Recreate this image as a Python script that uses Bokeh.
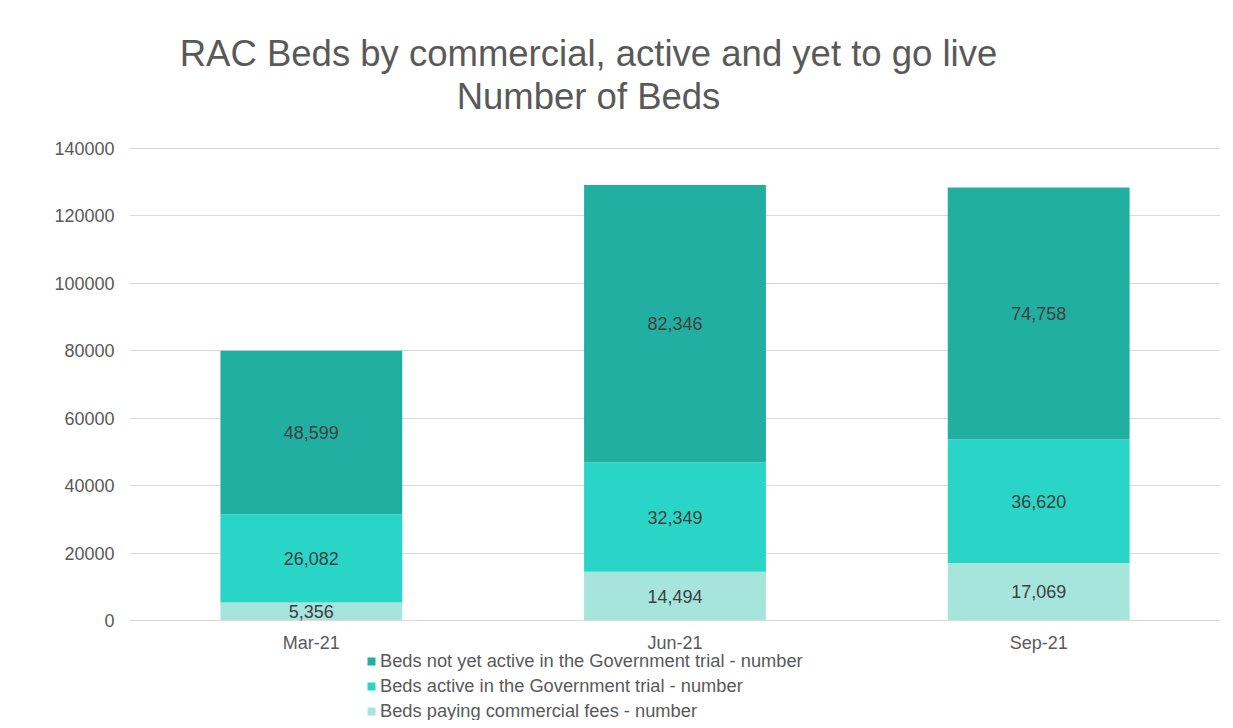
from bokeh.plotting import figure
from bokeh.models import (ColumnDataSource, FactorRange, Range1d, Legend, LegendItem,
                          NumeralTickFormatter, LabelSet, Label)
from bokeh.core.properties import value
from bokeh.embed import file_html
from bokeh.resources import INLINE

# ---- data ----
months = ["Mar-21", "Jun-21", "Sep-21"]
commercial = [5356, 14494, 17069]
active = [26082, 32349, 36620]
not_yet = [48599, 82346, 74758]
series_names = [
    "Beds paying commercial fees - number",
    "Beds active in the Government trial - number",
    "Beds not yet active in the Government trial - number",
]
title_lines = ["RAC Beds by commercial, active and yet to go live", "Number of Beds"]
y_ticks = [0, 20000, 40000, 60000, 80000, 100000, 120000, 140000]

colors = ["#A5E5DC", "#29D5C6", "#21AFA1"]
FONT = "Liberation Sans"
TXT = "#595959"

# ---- layout constants (pixels) ----
W, H = 1225, 720
LEFT, RIGHT_PAD = 129, 5
Y0_PX, YTOP_PX = 620, 148          # pixel rows of y=0 and y=140000
per_px = y_ticks[-1] / (Y0_PX - YTOP_PX)
y_min = -(H - Y0_PX) * per_px
y_max = Y0_PX * per_px
frame_w = W - LEFT - RIGHT_PAD

def px_to_y(py):
    return (Y0_PX - py) * per_px

def px_to_x(px):
    return (px - LEFT) / frame_w * len(months)

src = ColumnDataSource(dict(month=months, commercial=commercial, active=active, not_yet=not_yet))

p = figure(x_range=FactorRange(*months), y_range=Range1d(y_min, y_max),
           width=W, height=H, output_backend="svg", toolbar_location=None,
           min_border_left=LEFT, min_border_right=RIGHT_PAD, min_border_top=0, min_border_bottom=0)
p.x_range.range_padding = 0

renderers = p.vbar_stack(["commercial", "active", "not_yet"], x="month", width=0.5,
                         color=colors, source=src, line_color=None)

# data labels at segment midpoints
lab_x, lab_y, lab_t = [], [], []
for i, m in enumerate(months):
    base = 0
    for vals in (commercial, active, not_yet):
        v = vals[i]
        lab_x.append(m)
        lab_y.append(base + v / 2)
        lab_t.append(f"{v:,}")
        base += v
lsrc = ColumnDataSource(dict(x=lab_x, y=lab_y, t=lab_t))
p.add_layout(LabelSet(x="x", y="y", text="t", source=lsrc, text_align="center",
                      text_baseline="middle", text_font=value(FONT), text_font_size="18px",
                      text_color="#404040"))

# axes
p.yaxis.ticker = y_ticks
p.yaxis.formatter = NumeralTickFormatter(format="0")
p.yaxis.axis_line_color = None
p.yaxis.major_tick_line_color = None
p.yaxis.minor_tick_line_color = None
p.yaxis.major_tick_out = 0
p.yaxis.major_label_standoff = 15
p.yaxis.major_label_text_font = FONT
p.yaxis.major_label_text_font_size = "18px"
p.yaxis.major_label_text_color = TXT

p.xaxis.fixed_location = 0
p.xaxis.axis_line_color = "#d9d9d9"
p.xaxis.axis_line_width = 1
p.xaxis.major_tick_line_color = None
p.xaxis.major_tick_out = 0
p.xaxis.major_label_standoff = 12
p.xaxis.major_label_text_font = FONT
p.xaxis.major_label_text_font_size = "18px"
p.xaxis.major_label_text_color = TXT

p.xgrid.grid_line_color = None
p.ygrid.grid_line_color = "#d9d9d9"
p.ygrid.grid_line_width = 1
p.outline_line_color = None

# title: two centered lines
for line, py in zip(title_lines, (53, 96)):
    p.add_layout(Label(x=px_to_x(588), y=px_to_y(py), text=line, text_align="center",
                       text_baseline="middle", text_font=FONT, text_font_size="36.5px",
                       text_color=TXT))

# legend (top series first)
items = [LegendItem(label=series_names[i], renderers=[renderers[i]]) for i in (2, 1, 0)]
legend = Legend(items=items, location=(237, -2), orientation="vertical",
                label_text_font=FONT, label_text_font_size="18.3px", label_text_color=TXT,
                glyph_width=10, glyph_height=10, label_height=20, spacing=3,
                label_standoff=4, padding=0, margin=0, border_line_color=None,
                background_fill_alpha=0)
p.add_layout(legend, "center")

open("out.html", "w").write(file_html(p, INLINE))
